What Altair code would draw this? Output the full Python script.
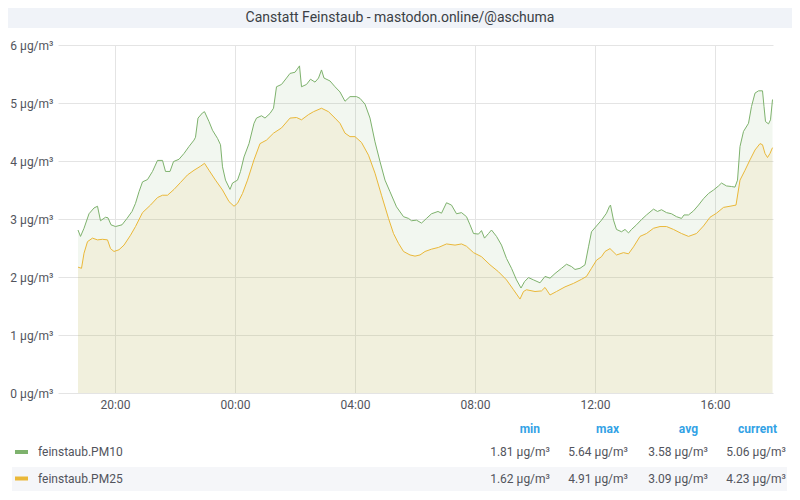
import altair as alt
import pandas as pd

TITLE = "Canstatt Feinstaub - mastodon.online/@aschuma"

# minutes after 18:00 of the first day
pm10_minutes = [46, 51, 58, 68, 78, 85, 91, 101, 106, 112, 121, 134, 144, 154, 161, 168, 175, 185, 195, 205,
                215, 221, 230, 237, 248, 258, 268, 278, 281, 286, 295, 299, 308, 315, 325, 331, 335, 341, 350, 355,
                365, 371, 378, 388, 398, 403, 413, 420, 430, 437, 443, 453, 463, 470, 480, 489, 493, 503, 511, 520,
                527, 533, 538, 550, 560, 570, 580, 590, 603, 610, 620, 630, 640, 650, 660, 670, 683, 697, 707, 713,
                723, 733, 743, 753, 766, 773, 783, 793, 803, 813, 823, 830, 837, 847, 853, 859, 867, 873, 883, 893,
                903, 913, 923, 932, 939, 947, 957, 970, 980, 990, 1000, 1013, 1023, 1033, 1040, 1050, 1060, 1067,
                1073, 1083, 1093, 1103, 1109, 1111, 1117, 1123, 1133, 1140, 1147, 1153, 1163, 1173, 1183, 1197,
                1205, 1213, 1223, 1233, 1243, 1253, 1258, 1267, 1277, 1287, 1297, 1307, 1317, 1327, 1333, 1343,
                1353, 1360, 1365, 1370, 1377, 1387, 1393, 1400, 1407, 1415, 1418, 1421, 1427, 1431, 1435]
pm10_values = [2.81, 2.70, 2.84, 3.09, 3.19, 3.22, 2.97, 3.03, 3.02, 2.90, 2.87, 2.90, 3.01, 3.13, 3.27, 3.47,
               3.64, 3.68, 3.82, 4.01, 4.01, 3.82, 3.82, 3.99, 4.03, 4.13, 4.25, 4.36, 4.41, 4.74, 4.83, 4.85,
               4.68, 4.53, 4.39, 4.28, 3.90, 3.67, 3.51, 3.62, 3.67, 3.82, 4.07, 4.30, 4.65, 4.74, 4.78, 4.74,
               4.82, 4.91, 5.28, 5.32, 5.43, 5.51, 5.53, 5.64, 5.28, 5.32, 5.41, 5.36, 5.43, 5.57, 5.43, 5.38,
               5.28, 5.19, 5.03, 5.11, 5.11, 5.08, 4.98, 4.74, 4.33, 3.99, 3.67, 3.47, 3.21, 3.04, 3.01, 2.97,
               2.98, 2.93, 3.01, 3.09, 3.13, 3.10, 3.28, 3.24, 3.09, 3.11, 3.04, 2.90, 2.75, 2.74, 2.80, 2.67,
               2.75, 2.81, 2.70, 2.55, 2.32, 2.15, 1.95, 1.81, 1.92, 1.99, 1.95, 1.90, 2.01, 1.98, 2.06, 2.15,
               2.22, 2.18, 2.13, 2.15, 2.21, 2.52, 2.78, 2.88, 2.98, 3.10, 3.22, 3.24, 2.98, 2.82, 2.78, 2.82,
               2.76, 2.82, 2.90, 2.99, 3.07, 3.17, 3.13, 3.16, 3.11, 3.09, 3.04, 3.01, 3.07, 3.07, 3.14, 3.24,
               3.35, 3.44, 3.50, 3.57, 3.62, 3.57, 3.56, 3.55, 3.67, 4.25, 4.51, 4.65, 4.94, 5.17, 5.21, 5.21,
               4.94, 4.68, 4.64, 4.71, 5.06]

pm25_minutes = [46, 53, 58, 65, 75, 85, 95, 105, 111, 118, 128, 138, 151, 161, 175, 191, 205, 215, 225, 238,
                251, 265, 278, 291, 299, 308, 321, 335, 348, 358, 365, 375, 385, 398, 410, 423, 437, 453, 470, 483,
                493, 507, 517, 533, 547, 560, 570, 580, 590, 600, 613, 627, 640, 653, 667, 677, 687, 697, 710, 720,
                730, 740, 753, 767, 783, 800, 813, 823, 837, 853, 870, 887, 903, 917, 930, 937, 943, 960, 973, 980,
                990, 1003, 1020, 1037, 1053, 1063, 1073, 1083, 1093, 1100, 1110, 1123, 1137, 1147, 1157, 1170,
                1183, 1197, 1210, 1223, 1237, 1253, 1267, 1283, 1297, 1310, 1323, 1337, 1350, 1362, 1370, 1380,
                1390, 1400, 1410, 1415, 1420, 1425, 1430, 1435]
pm25_values = [2.17, 2.15, 2.41, 2.61, 2.67, 2.64, 2.65, 2.64, 2.49, 2.44, 2.47, 2.55, 2.72, 2.87, 3.11, 3.24,
               3.37, 3.41, 3.41, 3.51, 3.63, 3.76, 3.84, 3.91, 3.96, 3.84, 3.67, 3.50, 3.30, 3.22, 3.27, 3.44,
               3.67, 4.02, 4.30, 4.36, 4.48, 4.57, 4.74, 4.75, 4.71, 4.80, 4.85, 4.91, 4.85, 4.74, 4.65, 4.48,
               4.42, 4.42, 4.32, 4.10, 3.79, 3.41, 3.01, 2.75, 2.58, 2.44, 2.38, 2.36, 2.38, 2.44, 2.48, 2.51,
               2.57, 2.55, 2.57, 2.53, 2.42, 2.35, 2.21, 2.09, 1.95, 1.78, 1.62, 1.75, 1.78, 1.75, 1.76, 1.82,
               1.69, 1.75, 1.83, 1.89, 1.96, 2.01, 2.15, 2.29, 2.35, 2.44, 2.49, 2.38, 2.42, 2.40, 2.52, 2.70,
               2.75, 2.84, 2.87, 2.87, 2.82, 2.75, 2.70, 2.75, 2.88, 3.03, 3.10, 3.20, 3.22, 3.24, 3.67, 3.84,
               4.02, 4.19, 4.30, 4.28, 4.13, 4.06, 4.13, 4.23]

series_names = ["feinstaub.PM10", "feinstaub.PM25"]
series_colors = ["#7eb26d", "#eab839"]
stat_headers = ["min", "max", "avg", "current"]
pm10_stats = ["1.81 µg/m³", "5.64 µg/m³", "3.58 µg/m³", "5.06 µg/m³"]
pm25_stats = ["1.62 µg/m³", "4.91 µg/m³", "3.09 µg/m³", "4.23 µg/m³"]
y_ticks = [0, 1, 2, 3, 4, 5, 6]

base = pd.Timestamp("2023-03-01 18:00:00")


def to_time(mins):
    return [(base + pd.Timedelta(minutes=m)).strftime("%Y-%m-%dT%H:%M:%S") for m in mins]


df = pd.concat([
    pd.DataFrame({"t": to_time(pm10_minutes), "v": pm10_values, "s": series_names[0]}),
    pd.DataFrame({"t": to_time(pm25_minutes), "v": pm25_values, "s": series_names[1]}),
])

FONT = "Roboto"
TXT = "#52545c"

x_ticks = [alt.DateTime(year=2023, month=3, date=1, hours=20, minutes=0)] + \
          [alt.DateTime(year=2023, month=3, date=2, hours=h, minutes=0) for h in (0, 4, 8, 12, 16)]

x_enc = alt.X("t:T",
              scale=alt.Scale(domain=[alt.DateTime(year=2023, month=3, date=1, hours=18, minutes=6),
                                      alt.DateTime(year=2023, month=3, date=2, hours=17, minutes=56)]),
              axis=alt.Axis(values=x_ticks, format="%H:%M", title=None, labelPadding=6,
                            labelFlush=False, labelOverlap=False))
y_enc = alt.Y("v:Q", stack=None,
              scale=alt.Scale(domain=[0, 6], nice=False, zero=True),
              axis=alt.Axis(values=y_ticks, title=None, labelExpr="datum.value + ' µg/m³'",
                            labelPadding=5))
col_enc = alt.Color("s:N", scale=alt.Scale(domain=series_names, range=series_colors), legend=None)

areas = alt.Chart(df).mark_area(fillOpacity=0.1, interpolate="linear").encode(
    x=x_enc, y=y_enc, color=col_enc, detail="s:N")
lines = alt.Chart(df).mark_line(strokeWidth=1, interpolate="linear").encode(
    x=x_enc, y=y_enc, color=col_enc, detail="s:N")

one = pd.DataFrame({"k": [0]})


def rect(x, x2, y, y2, color):
    return alt.Chart(one).mark_rect(color=color).encode(
        x=alt.value(x), x2=alt.value(x2), y=alt.value(y), y2=alt.value(y2))


def text(label, x, y, align="left", color=TXT, size=12, weight="normal"):
    return alt.Chart(one).mark_text(text=label, align=align, baseline="middle", font=FONT,
                                    fontSize=size, fontWeight=weight, color=color).encode(
        x=alt.value(x), y=alt.value(y))


layers = [
    rect(-50, 734, -37, -17, "#f0f3f8"),
    text(TITLE, 342, -27.5, align="center", color="#3b3f45", size=14, weight="normal"),
    rect(-46, 729, 422, 446, "#f5f6f9"),
    areas, lines,
]

header_x = [482, 561, 640, 719]
value_x = [492, 570, 650, 728]
for hx, h in zip(header_x, stat_headers):
    layers.append(text(h, hx, 384, align="right", color="#33a2e5", weight="bold"))

row_y = [407, 433.5]
for ry, name, colr, stats in zip(row_y, series_names, series_colors, [pm10_stats, pm25_stats]):
    layers.append(rect(-43, -30, ry - 2, ry + 2, colr))
    layers.append(text(name, -20, ry))
    for vx, sv in zip(value_x, stats):
        layers.append(text(sv, vx, ry, align="right"))

chart = alt.layer(*layers).properties(
    width=715, height=348,
    autosize=alt.AutoSizeParams(type="none"),
    padding={"left": 50, "top": 37, "right": 19, "bottom": 99},
    background="white",
).configure_view(stroke=None).configure_axis(
    domain=False, ticks=False, grid=True, gridColor="#e4e4e4", gridWidth=1,
    labelFont=FONT, labelFontSize=12, labelColor=TXT,
)

chart.save("out.html", embed_options={"renderer": "svg", "actions": False})
